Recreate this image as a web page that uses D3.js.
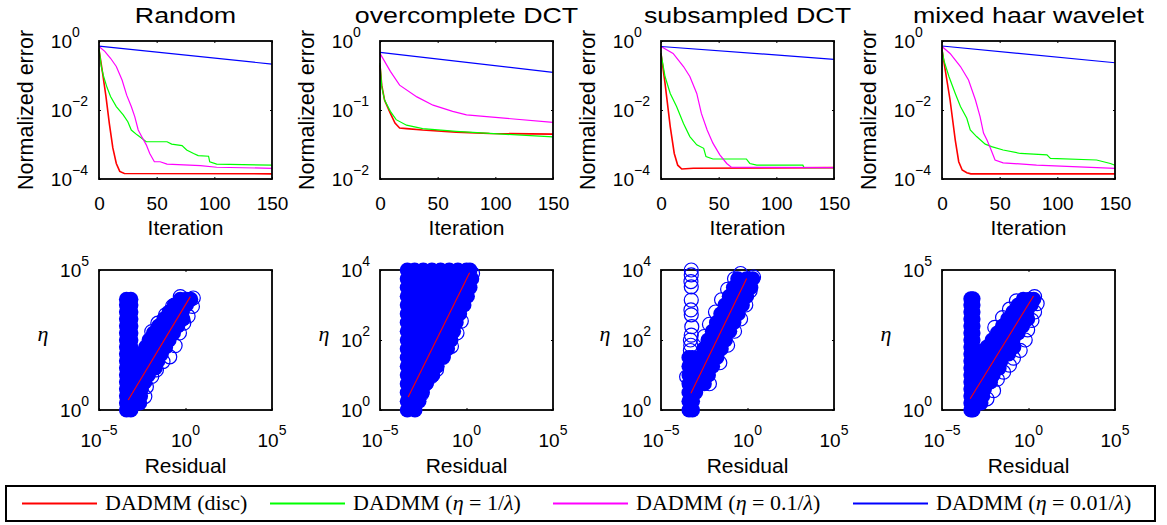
<!DOCTYPE html>
<meta charset="utf-8">
<style>
body { margin: 0; background: #fff; }
svg text { font-family: "Liberation Sans", Arial, sans-serif; fill: #000; }
.legend text { font-family: "Liberation Serif", "Times New Roman", serif; font-size: 22px; white-space: pre; }
.eta { font-family: "Liberation Serif", serif !important; font-style: italic; font-size: 22px; }
</style>
<svg width="1167" height="525"></svg>
<script src="https://d3js.org/d3.v7.min.js"></script>
<script>

// ---- data (errors and scatter positions are given as log10 exponents) ----
const titles = ["Random", "overcomplete DCT", "subsampled DCT", "mixed haar wavelet"];
const seriesNames = ["DADMM (disc)", "DADMM (η = 1/λ)", "DADMM (η = 0.1/λ)", "DADMM (η = 0.01/λ)"];
const seriesColors = ["#ff0000", "#00ff00", "#ff00ff", "#0000ff"];
const iterTicks = [0, 50, 100, 150];
const errDomains = [[-4, 0], [-2, 0], [-4, 0], [-4, 0]];
const errTicks = [[0, -2, -4], [0, -1, -2], [0, -2, -4], [0, -2, -4]];
const resTicks = [-5, 0, 5];
const etaDomains = [[0, 5], [0, 4], [0, 4], [0, 5]];
const etaTicks = [[0, 5], [0, 2, 4], [0, 2, 4], [0, 5]];

// [iteration, log10 normalized error]
const randomRed = [[0,-0.25],[3,-0.9],[6,-1.6],[9,-2.4],[12,-3.1],[15,-3.55],[18,-3.78],[22,-3.84],[150,-3.85]];
const randomGreen = [[0,-0.21],[2,-0.74],[4,-1.03],[7,-1.35],[10,-1.61],[15,-1.9],[21,-2.14],[25,-2.34],[28,-2.58],[33,-2.72],[41,-2.92],[59,-2.92],[63,-2.99],[72,-3.03],[76,-3.16],[82,-3.26],[86,-3.32],[95,-3.34],[96,-3.5],[102,-3.57],[150,-3.6]];
const randomMagenta = [[0,-0.16],[5,-0.3],[10,-0.5],[15,-0.74],[20,-1.13],[24,-1.57],[28,-1.9],[31,-2.19],[34,-2.58],[37,-2.77],[41,-3.01],[44,-3.26],[48,-3.5],[53,-3.5],[59,-3.57],[88,-3.61],[102,-3.66],[150,-3.69]];
const randomBlue = [[0,-0.15],[150,-0.67]];

const dctRed = [[0,-0.35],[1.5,-0.64],[4,-0.86],[9,-1.05],[13,-1.19],[17,-1.26],[23,-1.27],[37,-1.29],[66,-1.32],[95,-1.34],[150,-1.35]];
const dctGreen = [[0,-0.32],[1.5,-0.66],[4,-0.86],[9,-1.02],[14,-1.14],[23,-1.22],[37,-1.27],[66,-1.31],[95,-1.34],[150,-1.39]];
const dctMagenta = [[0,-0.18],[9,-0.44],[17,-0.64],[32,-0.81],[46,-0.93],[63,-1.02],[75,-1.07],[95,-1.1],[150,-1.18]];
const dctBlue = [[0,-0.164],[150,-0.454]];

const subRed = [[0,-0.36],[3.5,-1.23],[8,-2.48],[11.5,-3.26],[14.5,-3.6],[18,-3.71],[28,-3.69],[150,-3.67]];
const subGreen = [[0,-0.36],[3.5,-1.03],[8,-1.52],[13.5,-1.9],[19.5,-2.39],[25,-2.77],[31,-3.01],[37,-3.11],[39,-3.35],[45,-3.42],[74,-3.42],[77,-3.55],[83,-3.6],[123,-3.6],[124,-3.67],[150,-3.67]];
const subMagenta = [[0,-0.16],[10.5,-0.36],[19.5,-0.74],[25,-1.03],[31,-1.52],[35,-2.1],[40,-2.58],[45,-2.96],[51,-3.3],[57,-3.55],[61,-3.66],[150,-3.67]];
const subBlue = [[0,-0.16],[150,-0.53]];

const haarRed = [[0,-0.26],[7,-1.71],[11.5,-2.87],[14.5,-3.5],[17.5,-3.74],[21.5,-3.82],[25,-3.85],[150,-3.85]];
const haarGreen = [[0,-0.21],[1.5,-0.55],[6,-1.03],[11.5,-1.52],[16,-1.9],[21.5,-2.24],[24.5,-2.58],[30,-2.77],[37.5,-2.99],[43,-3.06],[53,-3.16],[68,-3.26],[91,-3.3],[94,-3.4],[134,-3.45],[146,-3.55],[150,-3.6]];
const haarMagenta = [[0,-0.16],[7,-0.36],[16,-0.74],[23,-1.13],[29,-1.71],[33,-2.19],[36,-2.67],[39,-2.87],[42,-3.11],[46,-3.45],[53,-3.53],[82,-3.6],[150,-3.69]];
const haarBlue = [[0,-0.145],[150,-0.63]];

// scatter: [log10 residual, log10 eta]; "dense" = heavily overplotted region, "rings" = separate markers
const randomDense = [
  [-3.41,0],[-3.16,0],[-3.41,0.25],[-3.16,0.25],[-3.41,0.5],[-3.16,0.5],[-3.41,0.75],[-3.16,0.75],
  [-3.41,1],[-3.16,1],[-3.41,1.25],[-3.16,1.25],[-3.41,1.5],[-3.16,1.5],[-3.41,1.75],[-3.16,1.75],
  [-3.41,2],[-3.16,2],[-3.41,2.25],[-3.16,2.25],[-3.41,2.5],[-3.16,2.5],[-3.41,2.75],[-3.16,2.75],
  [-3.41,3],[-3.16,3],[-3.41,3.25],[-3.16,3.25],[-3.41,3.5],[-3.16,3.5],[-3.41,3.75],[-3.16,3.75],
  [-3.41,3.95],[-3.16,3.95],
  [-2.95,0.25],[-2.65,0.25],[-2.95,0.5],[-2.6,0.5],[-2.9,0.75],[-2.55,0.75],
  [-2.9,1],[-2.55,1],[-2.35,1],[-2.9,1.25],[-2.5,1.25],[-2.15,1.25],
  [-2.9,1.5],[-2.5,1.5],[-2.05,1.5],[-1.75,1.5],[-2.8,1.75],[-2.4,1.75],[-2.0,1.75],[-1.6,1.75],
  [-2.6,2],[-2.2,2],[-1.8,2],[-1.4,2],[-2.3,2.25],[-1.9,2.25],[-1.5,2.25],[-1.15,2.25],
  [-2.1,2.5],[-1.7,2.5],[-1.3,2.5],[-0.95,2.5],[-1.85,2.75],[-1.45,2.75],[-1.05,2.75],[-0.7,2.75],
  [-1.55,3],[-1.15,3],[-0.8,3],[-0.45,3],[-1.25,3.25],[-0.9,3.25],[-0.5,3.25],[-0.15,3.25],
  [-0.95,3.5],[-0.6,3.5],[-0.2,3.5],[-0.65,3.75],[-0.3,3.75],[0.05,3.75],[-0.3,3.95],[0.05,3.95],[0.3,3.95]
];
const randomRings = [
  [-2.35,0.48],[-2.26,0.83],[-1.95,1.2],[-1.68,1.43],[-1.3,1.73],[-0.91,1.9],[-0.6,2.3],[-0.35,2.75],
  [-0.1,3.1],[0.15,3.35],[0.4,3.7],[0.45,4.0],[-1.95,2.8],[-1.6,3.1],[-1.15,3.4],[-0.75,3.7],[-0.3,4.05]
];
const randomFit = [[-3.31,0.36],[0.28,4.05]];

const dctDense = [
  [-3.42,0],[-2.98,0],
  [-3.42,0.25],[-3.0,0.25],[-2.75,0.25],
  [-3.42,0.5],[-3.0,0.5],[-2.55,0.5],
  [-3.42,0.75],[-3.0,0.75],[-2.35,0.75],
  [-3.42,1],[-3.0,1],[-2.5,1],[-1.95,1],
  [-3.42,1.25],[-3.0,1.25],[-2.5,1.25],[-2.0,1.25],[-1.7,1.25],
  [-3.42,1.5],[-3.0,1.5],[-2.5,1.5],[-2.0,1.5],[-1.35,1.5],
  [-3.42,1.75],[-3.0,1.75],[-2.5,1.75],[-2.0,1.75],[-1.5,1.75],[-1.1,1.75],
  [-3.42,2],[-3.0,2],[-2.5,2],[-2.0,2],[-1.5,2],[-0.9,2],
  [-3.42,2.25],[-3.0,2.25],[-2.5,2.25],[-2.0,2.25],[-1.5,2.25],[-1.0,2.25],[-0.75,2.25],
  [-3.42,2.5],[-3.0,2.5],[-2.5,2.5],[-2.0,2.5],[-1.5,2.5],[-1.0,2.5],[-0.6,2.5],
  [-3.42,2.75],[-3.0,2.75],[-2.5,2.75],[-2.0,2.75],[-1.5,2.75],[-1.0,2.75],[-0.4,2.75],
  [-3.42,3],[-3.0,3],[-2.5,3],[-2.0,3],[-1.5,3],[-1.0,3],[-0.5,3],[-0.15,3],
  [-3.42,3.25],[-3.0,3.25],[-2.5,3.25],[-2.0,3.25],[-1.5,3.25],[-1.0,3.25],[-0.5,3.25],[0.05,3.25],
  [-3.42,3.5],[-3.0,3.5],[-2.5,3.5],[-2.0,3.5],[-1.5,3.5],[-1.0,3.5],[-0.5,3.5],[0.0,3.5],[0.2,3.5],
  [-3.42,3.75],[-3.0,3.75],[-2.5,3.75],[-2.0,3.75],[-1.5,3.75],[-1.0,3.75],[-0.5,3.75],[0.0,3.75],[0.3,3.75],
  [-3.42,4],[-3.0,4],[-2.5,4],[-2.0,4],[-1.5,4],[-1.0,4],[-0.5,4],[0.0,4],[0.2,4]
];
const dctRings = [
  [-0.87,1.82],[-1.35,1.53],[-1.73,1.15],[-2.31,0.77],[-0.3,2.54],[-2.6,0.45],[0.35,3.9],[-0.55,2.2],[-2.05,0.95]
];
const dctFit = [[-3.37,0.37],[0.18,3.92]];

const subDense = [
  [-3.38,0],[-3.18,0],[-3.38,0.25],[-3.18,0.25],[-3.38,0.5],[-3.18,0.5],[-3.38,0.75],[-3.18,0.75],
  [-3.38,1],[-3.18,1],[-3.38,1.25],[-3.18,1.25],[-3.38,1.5],[-3.18,1.5],
  [-3.0,0.5],[-3.0,0.75],[-2.5,0.75],[-2.76,1],[-2.26,1],[-3.0,1.25],[-2.52,1.25],[-2.02,1.25],
  [-2.77,1.5],[-2.27,1.5],[-1.77,1.5],[-2.52,1.75],[-2.02,1.75],[-1.52,1.75],
  [-2.28,2],[-1.78,2],[-1.28,2],[-2.03,2.25],[-1.53,2.25],[-1.03,2.25],
  [-1.79,2.5],[-1.29,2.5],[-0.79,2.5],[-1.54,2.75],[-1.04,2.75],[-0.54,2.75],
  [-1.3,3],[-0.8,3],[-0.3,3],[-1.05,3.25],[-0.55,3.25],[-0.05,3.25],
  [-0.81,3.5],[-0.31,3.5],[0.19,3.5],[-0.56,3.75],[-0.06,3.75],[0.3,3.75]
];
const subRings = [
  [-3.25,4.0],[-3.25,3.86],[-3.27,3.67],[-3.25,3.52],[-3.25,3.14],[-3.27,2.86],[-3.25,2.72],[-3.22,2.38],
  [-3.25,2.14],[-3.3,2.0],[-3.28,1.85],[-3.3,1.7],[-3.52,0.95],
  [-2.2,0.75],[-1.6,1.35],[-1.15,1.85],[-0.75,2.25],[-0.4,2.6],[-0.1,3.0],[0.15,3.4],[0.35,3.8],
  [-2.5,2.1],[-2.2,2.45],[-1.85,2.8],[-1.5,3.15],[-1.15,3.45],[-0.75,3.75],[-0.4,3.9]
];
const subFit = [[-3.27,0.48],[-0.05,3.76]];

const haarDense = [
  [-3.33,0],[-3.21,0],[-3.33,0.25],[-3.21,0.25],[-3.33,0.5],[-3.21,0.5],[-3.33,0.75],[-3.21,0.75],
  [-3.33,1],[-3.21,1],[-3.33,1.25],[-3.21,1.25],[-3.33,1.5],[-3.21,1.5],[-3.33,1.75],[-3.21,1.75],
  [-3.33,2],[-3.21,2],[-3.33,2.25],[-3.21,2.25],[-3.33,2.5],[-3.21,2.5],[-3.33,2.75],[-3.21,2.75],
  [-3.33,3],[-3.21,3],[-3.33,3.25],[-3.21,3.25],[-3.33,3.5],[-3.21,3.5],[-3.33,3.75],[-3.21,3.75],
  [-3.33,3.97],[-3.21,3.97],
  [-3.0,0.25],[-2.75,0.25],[-2.95,0.5],[-2.65,0.5],[-2.9,0.75],[-2.55,0.75],
  [-2.9,1],[-2.5,1],[-2.2,1],[-2.85,1.25],[-2.45,1.25],[-2.05,1.25],
  [-2.85,1.5],[-2.45,1.5],[-2.05,1.5],[-1.7,1.5],[-2.8,1.75],[-2.4,1.75],[-2.0,1.75],[-1.6,1.75],
  [-2.7,2],[-2.3,2],[-1.9,2],[-1.5,2],[-1.15,2],[-2.4,2.25],[-2.0,2.25],[-1.6,2.25],[-1.2,2.25],[-0.85,2.25],
  [-2.1,2.5],[-1.7,2.5],[-1.3,2.5],[-0.9,2.5],[-1.8,2.75],[-1.4,2.75],[-1.0,2.75],[-0.6,2.75],
  [-1.5,3],[-1.1,3],[-0.7,3],[-0.35,3],[-1.2,3.25],[-0.8,3.25],[-0.4,3.25],[-0.05,3.25],
  [-0.9,3.5],[-0.5,3.5],[-0.1,3.5],[-0.6,3.75],[-0.2,3.75],[0.15,3.75],[-0.3,3.95],[0.05,3.95],[0.3,3.95]
];
const haarRings = [
  [-2.4,0.4],[-2.02,0.69],[-1.8,1.1],[-1.44,1.35],[-1.1,1.6],[-0.87,1.85],[-0.48,2.13],[-0.19,2.5],
  [-0.05,2.86],[0.2,3.2],[0.35,3.5],[0.5,3.8],[0.35,4.05],[-1.95,2.95],[-1.5,3.3],[-1.1,3.6],[-0.7,3.9]
];
const haarFit = [[-3.37,0.4],[0.29,4.07]];

// ---- layout ----
const boxLeft = [99, 380, 661, 942], boxW = 173;
const topT = 41, topB = 179, botT = 270, botB = 410;
const legendX = [22, 270, 553, 853];

const panels = [
  {curves: [randomRed, randomGreen, randomMagenta, randomBlue], dense: randomDense, rings: randomRings, fit: randomFit},
  {curves: [dctRed, dctGreen, dctMagenta, dctBlue], dense: dctDense, rings: dctRings, fit: dctFit},
  {curves: [subRed, subGreen, subMagenta, subBlue], dense: subDense, rings: subRings, fit: subFit},
  {curves: [haarRed, haarGreen, haarMagenta, haarBlue], dense: haarDense, rings: haarRings, fit: haarFit}
];

const svg = d3.select("svg");
const minus = e => (e < 0 ? "\u2212" + (-e) : "" + e);

function inwardTicks(g, scale, vals, orient, pos) {
  const ax = {bottom: d3.axisBottom, top: d3.axisTop, left: d3.axisLeft, right: d3.axisRight}[orient];
  const a = g.append("g")
    .attr("transform", orient === "bottom" || orient === "top" ? `translate(0,${pos})` : `translate(${pos},0)`)
    .call(ax(scale).tickValues(vals).tickSizeInner(-2).tickSizeOuter(0).tickFormat(""));
  a.select(".domain").remove();
  a.selectAll("line").attr("stroke", "#000");
  return a;
}

panels.forEach((p, i) => {
  const L = boxLeft[i], R = L + boxW, cx = L + boxW / 2;
  const g = svg.append("g");

  // ---- top: error vs iteration ----
  const x = d3.scaleLinear().domain([0, 150]).range([L, R]);
  const y = d3.scaleLog().domain(errDomains[i].map(e => Math.pow(10, e))).range([topB, topT]);
  const yv = e => y(Math.pow(10, e));
  const line = d3.line().x(d => x(d[0])).y(d => yv(d[1]));

  p.curves.forEach((c, k) => {
    g.append("path").attr("d", line(c)).attr("fill", "none")
      .attr("stroke", seriesColors[k]).attr("stroke-width", k === 0 ? 1.6 : 1.2);
  });
  g.append("rect").attr("x", L).attr("y", topT).attr("width", boxW).attr("height", topB - topT)
    .attr("fill", "none").attr("stroke", "#000").attr("stroke-width", 1.8);

  const xa = g.append("g").attr("transform", `translate(0,${topB})`)
    .call(d3.axisBottom(x).tickValues(iterTicks).tickSizeInner(-2).tickSizeOuter(0).tickPadding(17.5));
  xa.select(".domain").remove();
  xa.selectAll("line").attr("stroke", "#000");
  xa.selectAll("text").attr("font-size", 19).attr("font-family", "Liberation Sans, Arial, sans-serif");
  inwardTicks(g, x, iterTicks, "top", topT);
  const yTickVals = errTicks[i].map(e => Math.pow(10, e));
  inwardTicks(g, y, yTickVals, "left", L);
  inwardTicks(g, y, yTickVals, "right", R);

  errTicks[i].forEach(e => {
    g.append("text").attr("x", L - 27).attr("y", yv(e) + 7).attr("text-anchor", "end")
      .attr("font-size", 19).text("10");
    g.append("text").attr("x", L - 27).attr("y", yv(e) - 4).attr("font-size", 14).text(minus(e));
  });

  g.append("text").attr("transform", `translate(${cx},23) scale(1.22,1)`)
    .attr("text-anchor", "middle").attr("font-size", 22).text(titles[i]);
  g.append("text").attr("transform", `translate(${L - 66},110) rotate(-90)`)
    .attr("text-anchor", "middle").attr("font-size", 21.5).text("Normalized error");
  g.append("text").attr("x", cx).attr("y", 235).attr("text-anchor", "middle")
    .attr("font-size", 21).text("Iteration");

  // ---- bottom: eta vs residual ----
  const xs = d3.scaleLog().domain([1e-5, 1e5]).range([L, R]);
  const ys = d3.scaleLog().domain(etaDomains[i].map(e => Math.pow(10, e))).range([botB, botT]);
  const px = d => xs(Math.pow(10, d[0])), py = d => ys(Math.pow(10, d[1]));

  g.append("rect").attr("x", L).attr("y", botT).attr("width", boxW).attr("height", botB - botT)
    .attr("fill", "none").attr("stroke", "#000").attr("stroke-width", 1.8);
  inwardTicks(g, xs, resTicks.map(e => Math.pow(10, e)), "bottom", botB);
  inwardTicks(g, xs, resTicks.map(e => Math.pow(10, e)), "top", botT);
  inwardTicks(g, ys, etaTicks[i].map(e => Math.pow(10, e)), "left", L);
  inwardTicks(g, ys, etaTicks[i].map(e => Math.pow(10, e)), "right", R);

  g.append("g").selectAll("circle").data(p.dense).join("circle")
    .attr("cx", px).attr("cy", py).attr("r", 7.6).attr("fill", "#0000ff");
  g.append("g").selectAll("circle").data(p.rings).join("circle")
    .attr("cx", px).attr("cy", py).attr("r", 7).attr("fill", "none")
    .attr("stroke", "#0000ff").attr("stroke-width", 1.2);
  g.append("path").attr("d", d3.line().x(px).y(py)(p.fit))
    .attr("fill", "none").attr("stroke", "#ff0000").attr("stroke-width", 1.1);

  resTicks.forEach(e => {
    const t = g.append("text").attr("x", xs(Math.pow(10, e))).attr("y", 447)
      .attr("text-anchor", "middle").attr("font-size", 19);
    t.append("tspan").text("10");
    t.append("tspan").attr("dy", -12).attr("font-size", 14).text(minus(e));
  });
  etaTicks[i].forEach(e => {
    const t = g.append("text").attr("x", L - 10).attr("y", ys(Math.pow(10, e)) + 7)
      .attr("text-anchor", "end").attr("font-size", 19);
    t.append("tspan").text("10");
    t.append("tspan").attr("dy", -11).attr("font-size", 14).text(minus(e));
  });
  g.append("text").attr("class", "eta").attr("x", L - 56).attr("y", 341)
    .attr("text-anchor", "middle").text("η");
  g.append("text").attr("x", cx).attr("y", 473).attr("text-anchor", "middle")
    .attr("font-size", 21).text("Residual");
});

// ---- legend ----
const lg = svg.append("g").attr("class", "legend");
lg.append("rect").attr("x", 6).attr("y", 486).attr("width", 1149).attr("height", 35)
  .attr("fill", "#fff").attr("stroke", "#000").attr("stroke-width", 2);
seriesNames.forEach((name, k) => {
  const x0 = legendX[k];
  lg.append("line").attr("x1", x0).attr("x2", x0 + 75).attr("y1", 503.5).attr("y2", 503.5)
    .attr("stroke", seriesColors[k]).attr("stroke-width", 2);
  const t = lg.append("text").attr("x", x0 + 83).attr("y", 510);
  name.split(/([ηλ])/).filter(s => s.length).forEach(s => {
    t.append("tspan").attr("font-style", /[ηλ]/.test(s) ? "italic" : null).text(s);
  });
});

</script>
